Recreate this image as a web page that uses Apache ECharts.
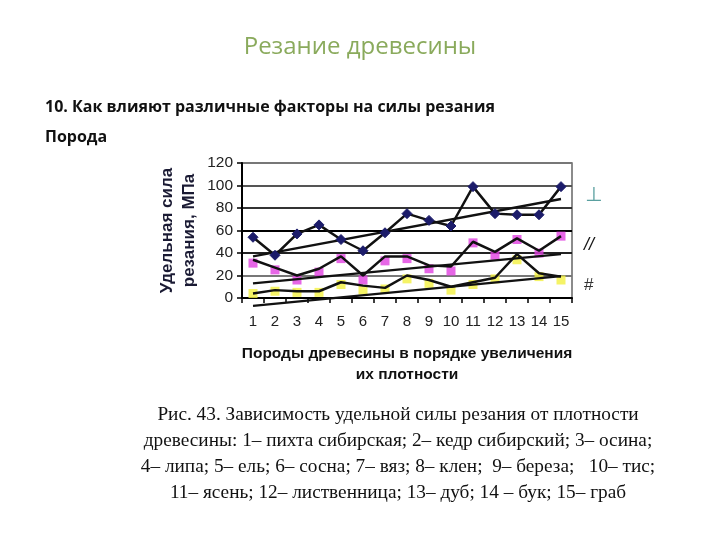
<!DOCTYPE html>
<html>
<head>
<meta charset="utf-8">
<script src="https://cdn.jsdelivr.net/npm/echarts@6/dist/echarts.min.js"></script>
<style>
html,body{margin:0;padding:0;background:#fff;}
#c{width:720px;height:540px;}
</style>
</head>
<body>
<div id="c"></div>
<script>
const categories = ['1','2','3','4','5','6','7','8','9','10','11','12','13','14','15'];
const yTicks = [0, 20, 40, 60, 80, 100, 120];
// perpendicular cutting (blue markers, black line)
const perpValues = [54, 38, 57, 65, 52, 42, 58, 75, 69, 64, 99, 75, 74, 74, 99];
// longitudinal cutting: black line and magenta markers
const longLine = [34, 27, 20, 26, 37, 20, 37, 37, 29, 28, 50, 41, 53, 42, 55];
const longMarks = [31, 25, 16, 23, 35, 16, 33, 35, 26, 24, 49, 38, 52, 40, 55];
// transverse cutting: black line and yellow markers
const transLine = [4, 7, 6, 6, 14, 11, 9, 20, 16, 10, 14, 18, 39, 22, 19];
const transMarks = [4, 6, 5, 5, 12, 7, 8, 17, 13, 7, 12, 17, 34, 19, 16];
// trend line end values (at category 1 and 15)
const perpTrend = [37, 88];
const longTrend = [13, 39];
const transTrend = [-7, 19.5];

function trend(ends) {
  return categories.map((c, i) => i === 0 ? ends[0] : (i === categories.length - 1 ? ends[1] : null));
}

const chart = echarts.init(document.getElementById('c'));
const black = '#111';
chart.setOption({
  animation: false,
  backgroundColor: '#fff',
  title: [
    {text: 'Резание древесины', left: 'center', top: 30,
     textStyle: {fontFamily: 'Open Sans', fontWeight: 'normal', fontSize: 24, color: '#8aaa5c'}},
    {text: '10. Как влияют различные факторы на силы резания', left: 40, top: 94,
     textStyle: {fontFamily: 'Open Sans', fontWeight: 'bold', fontSize: 16, color: '#111'}},
    {text: 'Порода', left: 40, top: 124,
     textStyle: {fontFamily: 'Open Sans', fontWeight: 'bold', fontSize: 16, color: '#111'}}
  ],
  grid: {left: 242, right: 148, top: 163, bottom: 242, show: true, borderColor: '#666', borderWidth: 1.5},
  xAxis: {
    type: 'category', data: categories, boundaryGap: true,
    axisLine: {lineStyle: {color: '#000', width: 2}},
    axisTick: {show: true, length: 5, lineStyle: {color: '#000', width: 1.5}},
    axisLabel: {margin: 16, fontFamily: 'Liberation Sans', fontSize: 15, color: '#222', interval: 0},
    name: 'Породы древесины в порядке увеличения\nих плотности',
    nameLocation: 'middle', nameGap: 45,
    nameTextStyle: {fontFamily: 'Liberation Sans', fontWeight: 'bold', fontSize: 15.5, color: '#111', lineHeight: 21}
  },
  yAxis: {
    type: 'value', min: 0, max: 120, interval: 20,
    axisLine: {show: true, lineStyle: {color: '#000', width: 2}},
    axisTick: {show: true, length: 5, lineStyle: {color: '#000', width: 1.5}},
    axisLabel: {margin: 9, fontFamily: 'Liberation Sans', fontSize: 15.5, color: '#222',
      formatter: v => yTicks.includes(v) ? String(v) : ''},
    splitLine: {show: true, lineStyle: {width: 2, color: ['#000', '#777', '#222', '#000', '#333', '#555', '#777']}},
    name: 'Удельная сила\nрезания, МПа', nameLocation: 'middle', nameGap: 42, nameRotate: 90,
    nameTextStyle: {fontFamily: 'Liberation Sans', fontWeight: 'bold', fontSize: 17, color: '#1a1a33', lineHeight: 22}
  },
  series: [
    {type: 'scatter', data: longMarks, symbol: 'rect', symbolSize: 9, itemStyle: {color: '#e040e0'}, z: 2},
    {type: 'scatter', data: transMarks, symbol: 'rect', symbolSize: 9, itemStyle: {color: '#f2f040'}, z: 2},
    {type: 'line', data: trend(perpTrend), connectNulls: true, showSymbol: false, symbol: 'none',
     lineStyle: {color: black, width: 2.3}, z: 3},
    {type: 'line', data: trend(longTrend), connectNulls: true, showSymbol: false, symbol: 'none',
     lineStyle: {color: black, width: 2.3}, z: 3},
    {type: 'line', data: trend(transTrend), connectNulls: true, showSymbol: false, symbol: 'none', clip: false,
     lineStyle: {color: black, width: 2.3}, z: 3},
    {type: 'line', data: longLine, symbol: 'none', lineStyle: {color: black, width: 2.5}, z: 4},
    {type: 'line', data: transLine, symbol: 'none', lineStyle: {color: black, width: 2.5}, z: 4},
    {type: 'line', data: perpValues, symbol: 'diamond', symbolSize: 10, showAllSymbol: true,
     itemStyle: {color: '#1c1c6a', borderColor: '#1c1c6a'},
     lineStyle: {color: black, width: 2.5}, z: 5}
  ],
  graphic: [
    {type: 'text', left: 585, top: 186, style: {text: '⊥', fontFamily: 'DejaVu Sans', fontSize: 20, fill: '#5aa0a0'}},
    {type: 'text', left: 584, top: 236, style: {text: '//', fontFamily: 'Liberation Sans', fontStyle: 'italic', fontSize: 18, fill: '#111'}},
    {type: 'text', left: 584, top: 277, style: {text: '#', fontFamily: 'Liberation Sans', fontSize: 17, fill: '#333'}},
    {type: 'text', x: 398, y: 402, style: {
      text: 'Рис. 43. Зависимость удельной силы резания от плотности\nдревесины: 1– пихта сибирская; 2– кедр сибирский; 3– осина;\n4– липа; 5– ель; 6– сосна; 7– вяз; 8– клен;  9– береза;   10– тис;\n11– ясень; 12– лиственница; 13– дуб; 14 – бук; 15– граб',
      fontFamily: 'Liberation Serif', fontSize: 19.3, lineHeight: 26, fill: '#111', align: 'center', verticalAlign: 'top'}}
  ]
});
</script>
</body>
</html>
